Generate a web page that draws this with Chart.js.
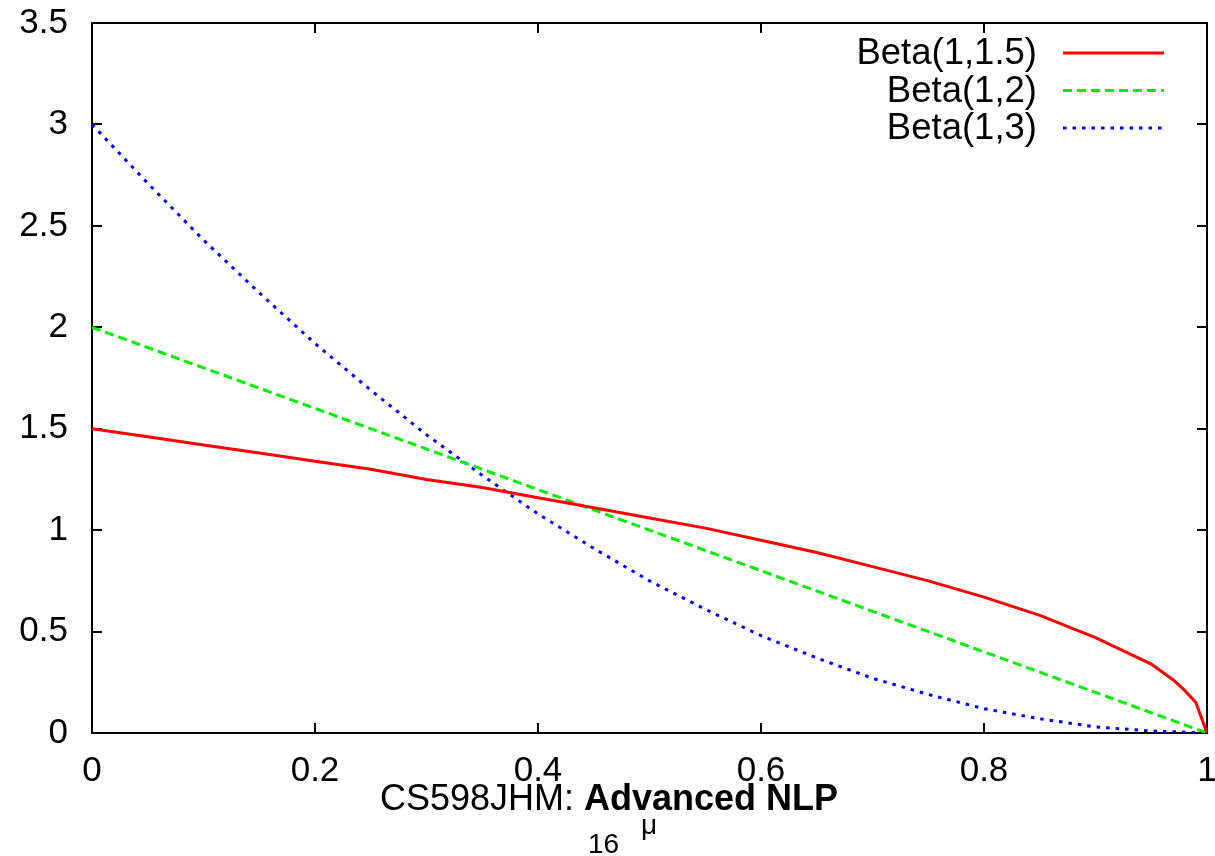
<!DOCTYPE html>
<html>
<head>
<meta charset="utf-8">
<script src="https://cdn.jsdelivr.net/npm/chart.js@4.4.1/dist/chart.umd.min.js"></script>
<style>
  html, body { margin: 0; padding: 0; background: #fff; }
  #wrap { width: 1215px; height: 856px; }
</style>
</head>
<body>
<div id="wrap"><canvas id="betaChart" width="1215" height="856"></canvas></div>
<script>
// values
const redX   = [0, 0.05, 0.1, 0.15, 0.2, 0.25, 0.3, 0.35, 0.4, 0.45, 0.5, 0.55, 0.6, 0.65, 0.7, 0.75, 0.8, 0.85, 0.9, 0.95, 0.97, 0.98, 0.99, 1];
const redY   = [1.5, 1.46, 1.42, 1.38, 1.34, 1.30, 1.25, 1.21, 1.16, 1.11, 1.06, 1.01, 0.95, 0.89, 0.82, 0.75, 0.67, 0.58, 0.47, 0.34, 0.26, 0.21, 0.15, 0];
const greenX = [0, 0.5, 1];
const greenY = [2, 1, 0];
const blueX  = [0, 0.05, 0.1, 0.15, 0.2, 0.25, 0.3, 0.35, 0.4, 0.45, 0.5, 0.55, 0.6, 0.65, 0.7, 0.75, 0.8, 0.85, 0.9, 0.95, 1];
const blueY  = [3, 2.71, 2.43, 2.17, 1.92, 1.69, 1.47, 1.27, 1.08, 0.91, 0.75, 0.61, 0.48, 0.37, 0.27, 0.19, 0.12, 0.07, 0.03, 0.01, 0];

const seriesNames = ['Beta(1,1.5)', 'Beta(1,2)', 'Beta(1,3)'];
const xTicks = [0, 0.2, 0.4, 0.6, 0.8, 1];
const yTicks = [0, 0.5, 1, 1.5, 2, 2.5, 3, 3.5];

const FONT = '"Liberation Sans", Arial, Helvetica, sans-serif';

function toPoints(xs, ys) {
    return xs.map((x, i) => ({ x: x, y: ys[i] }));
}

// gnuplot-like frame: border, inward ticks on all sides, legend, footer text
const gnuplotFrame = {
    id: 'gnuplotFrame',
    beforeDatasetsDraw(chart) {
        const ctx = chart.ctx;
        const a = chart.chartArea;
        const xs = chart.scales.x;
        const ys = chart.scales.y;
        const tl = 10;
        ctx.save();
        ctx.strokeStyle = '#000';
        ctx.lineWidth = 2;
        ctx.beginPath();
        xTicks.forEach(v => {
            const px = Math.round(xs.getPixelForValue(v));
            ctx.moveTo(px, a.bottom); ctx.lineTo(px, a.bottom - tl);
            ctx.moveTo(px, a.top); ctx.lineTo(px, a.top + tl);
        });
        yTicks.forEach(v => {
            const py = Math.round(ys.getPixelForValue(v));
            ctx.moveTo(a.left, py); ctx.lineTo(a.left + tl, py);
            ctx.moveTo(a.right, py); ctx.lineTo(a.right - tl, py);
        });
        ctx.stroke();
        ctx.strokeRect(a.left, a.top, a.right - a.left, a.bottom - a.top);
        ctx.restore();
    },
    afterDraw(chart) {
        const ctx = chart.ctx;
        ctx.save();
        // legend
        ctx.font = '36.5px ' + FONT;
        ctx.textAlign = 'right';
        ctx.textBaseline = 'middle';
        ctx.fillStyle = '#000';
        chart.data.datasets.forEach((ds, i) => {
            const y = 53 + i * 37.5;
            ctx.fillText(ds.label, 1037, y + 1);
            ctx.strokeStyle = ds.borderColor;
            ctx.lineWidth = ds.borderWidth;
            ctx.setLineDash(ds.borderDash || []);
            ctx.beginPath();
            ctx.moveTo(1063, y);
            ctx.lineTo(1164, y);
            ctx.stroke();
        });
        ctx.setLineDash([]);

        // footer
        ctx.textAlign = 'left';
        ctx.textBaseline = 'alphabetic';
        const plain = 'CS598JHM: ';
        ctx.font = '36px ' + FONT;
        const w = ctx.measureText(plain).width;
        ctx.font = 'bold 36px ' + FONT;
        const wb = ctx.measureText('Advanced NLP').width;
        const startX = 838 - w - wb;
        ctx.font = '36px ' + FONT;
        ctx.fillText(plain, startX, 810);
        ctx.font = 'bold 36px ' + FONT;
        ctx.fillText('Advanced NLP', startX + w, 810);

        ctx.font = '28px ' + FONT;
        ctx.fillText('16', 588, 853);
        ctx.font = '28px ' + FONT;
        ctx.textAlign = 'center';
        ctx.fillText('\u03bc', 649, 834);
        ctx.restore();
    }
};

new Chart(document.getElementById('betaChart'), {
    type: 'line',
    data: {
        datasets: [
            {
                label: seriesNames[0],
                data: toPoints(redX, redY),
                borderColor: '#ff0000',
                borderWidth: 3,
                pointRadius: 0,
                tension: 0,
                fill: false
            },
            {
                label: seriesNames[1],
                data: toPoints(greenX, greenY),
                borderColor: '#00ee00',
                borderWidth: 3,
                borderDash: [9, 5],
                pointRadius: 0,
                tension: 0,
                fill: false
            },
            {
                label: seriesNames[2],
                data: toPoints(blueX, blueY),
                borderColor: '#0000ff',
                borderWidth: 3,
                borderDash: [3.5, 6],
                pointRadius: 0,
                tension: 0,
                fill: false
            }
        ]
    },
    options: {
        responsive: false,
        animation: false,
        devicePixelRatio: 1,
        layout: { padding: { left: 0, top: 23, right: 8, bottom: 0 } },
        plugins: {
            legend: { display: false },
            tooltip: { enabled: false }
        },
        scales: {
            x: {
                type: 'linear',
                min: 0,
                max: 1,
                border: { display: false },
                grid: { display: false, drawTicks: false },
                afterBuildTicks: s => { s.ticks = xTicks.map(v => ({ value: v })); },
                afterFit: s => { s.height = 123; s.paddingLeft = 0; s.paddingRight = 0; },
                ticks: {
                    color: '#000',
                    padding: 17,
                    maxRotation: 0,
                    autoSkip: false,
                    font: { family: FONT, size: 35 },
                    callback: v => String(v)
                }
            },
            y: {
                type: 'linear',
                min: 0,
                max: 3.5,
                border: { display: false },
                grid: { display: false, drawTicks: false },
                afterBuildTicks: s => { s.ticks = yTicks.map(v => ({ value: v })); },
                afterFit: s => { s.width = 92; s.paddingTop = 0; s.paddingBottom = 0; },
                ticks: {
                    color: '#000',
                    padding: 24,
                    autoSkip: false,
                    font: { family: FONT, size: 35 },
                    callback: v => String(v)
                }
            }
        }
    },
    plugins: [gnuplotFrame]
});
</script>
</body>
</html>
